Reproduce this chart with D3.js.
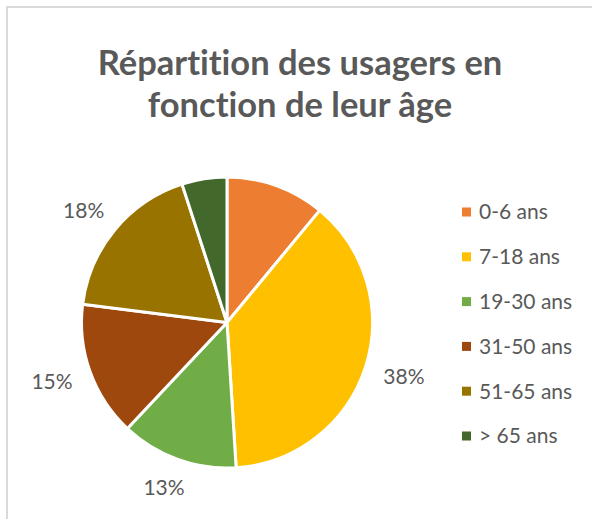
<!DOCTYPE html>
<html>
<head>
<meta charset="utf-8">
<script src="https://cdn.jsdelivr.net/npm/d3@7"></script>
<style>
  body { margin: 0; background: #fff; }
  text { font-family: Lato, "Open Sans", sans-serif; fill: #595959; font-variant-ligatures: none; }
</style>
</head>
<body>
<div id="chart"></div>
<script>
// Repartition des usagers par tranche d'age

let ageGroups = ["0-6 ans", "7-18 ans", "19-30 ans", "31-50 ans", "51-65 ans", "> 65 ans"];
let shares = [11, 38, 13, 15, 18, 5];
let labelShown = [false, true, true, true, true, false];
let sliceColors = ["#ED7D31", "#FFC000", "#70AD47", "#9E480E", "#997300", "#43682B"];
let titleLines = ["Répartition des usagers en", "fonction de leur âge"];

let width = 592, height = 519;
let cx = 227, cy = 322.5, radius = 145.5;

let svg = d3.select("#chart")
  .append("svg")
  .attr("width", width)
  .attr("height", height);

// chart area frame (right and bottom sides fall outside the picture)
svg.append("rect")
  .attr("x", 7).attr("y", 7)
  .attr("width", 620).attr("height", 540)
  .attr("fill", "#fff")
  .attr("stroke", "#d9d9d9")
  .attr("stroke-width", 2);

svg.append("g")
  .selectAll("text")
  .data(titleLines)
  .enter()
  .append("text")
  .attr("x", 300)
  .attr("y", function(d, i) { return 75 + i * 42; })
  .attr("text-anchor", "middle")
  .style("font-size", "34.5px")
  .style("font-weight", "bold")
  .text(function(d) { return d; });

let pie = d3.pie().sort(null).value(function(d) { return d; });
let arcs = pie(shares);

let arc = d3.arc().innerRadius(0).outerRadius(radius);

// labels sit outside the pie, on a slightly flattened ring
function labelPos(d) {
  let a = (d.startAngle + d.endAngle) / 2;
  return [186 * Math.sin(a), -176 * Math.cos(a)];
}

let color = d3.scaleOrdinal().domain(ageGroups).range(sliceColors);

let pieG = svg.append("g")
  .attr("transform", "translate(" + cx + "," + cy + ")");

pieG.selectAll("path")
  .data(arcs)
  .enter()
  .append("path")
  .attr("d", arc)
  .attr("fill", function(d, i) { return color(ageGroups[i]); })
  .attr("stroke", "#fff")
  .attr("stroke-width", 3)
  .attr("stroke-linejoin", "round");

pieG.selectAll("text")
  .data(arcs.filter(function(d, i) { return labelShown[i]; }))
  .enter()
  .append("text")
  .attr("transform", function(d) { return "translate(" + labelPos(d) + ")"; })
  .attr("text-anchor", "middle")
  .attr("dy", "0.35em")
  .style("font-size", "21px")
  .text(function(d) { return Math.round(d.value / d3.sum(shares) * 100) + "%"; });

// legend
let legendY = d3.scalePoint().domain(ageGroups).range([212, 436]);

let legend = svg.append("g")
  .selectAll("g")
  .data(ageGroups)
  .enter()
  .append("g")
  .attr("transform", function(d) { return "translate(462," + legendY(d) + ")"; });

legend.append("rect")
  .attr("x", 0).attr("y", -4.5)
  .attr("width", 9).attr("height", 9)
  .attr("fill", function(d) { return color(d); });

legend.append("text")
  .attr("x", 17)
  .attr("dy", "0.35em")
  .style("font-size", "21px")
  .text(function(d) { return d; });
</script>
</body>
</html>
